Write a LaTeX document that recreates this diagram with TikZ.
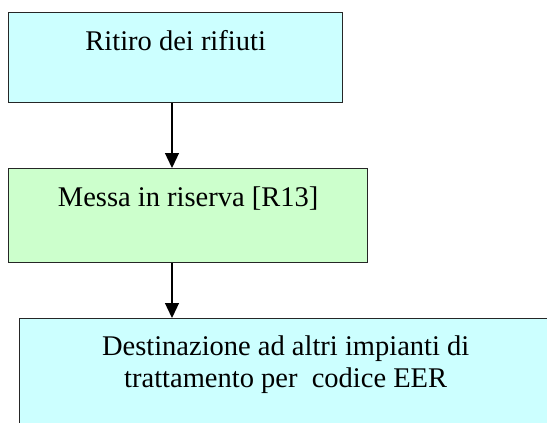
\documentclass[tikz,border=0pt]{standalone}
\usepackage{fontspec}
\setmainfont{Liberation Serif}
\usetikzlibrary{arrows.meta}
\definecolor{cyanbox}{RGB}{204,255,255}
\definecolor{greenbox}{RGB}{204,255,204}
\begin{document}
\begin{tikzpicture}[x=1pt,y=-1pt,
  box/.style={draw=black!85, line width=1.3pt, inner xsep=0pt, inner ysep=0pt,
    font=\fontsize{28.5}{32}\selectfont, anchor=north west},
  conn/.style={line width=1.3pt, -{Triangle[length=15pt,width=14pt]}}]
\useasboundingbox (0,0) rectangle (547,423);
\node[box, fill=cyanbox, minimum width=334pt, text height=38pt, text depth=52pt] (b1) at (8,12) {Ritiro dei rifiuti};
\node[box, fill=greenbox, minimum width=359pt, text height=38pt, text depth=56pt] (b2) at (8,168) {Messa in riserva [R13]};
\node[box, fill=cyanbox, minimum width=532pt, text height=37pt, text depth=120pt] (b3) at (19,318)
  {\begin{tabular}[t]{@{}c@{}}Destinazione ad altri impianti di\\trattamento per\ \ codice EER\end{tabular}};
\coordinate (ax) at (172,0);
\draw[conn] (b1.south -| ax) -- (b2.north -| ax);
\draw[conn] (b2.south -| ax) -- (b3.north -| ax);
\end{tikzpicture}
\end{document}
